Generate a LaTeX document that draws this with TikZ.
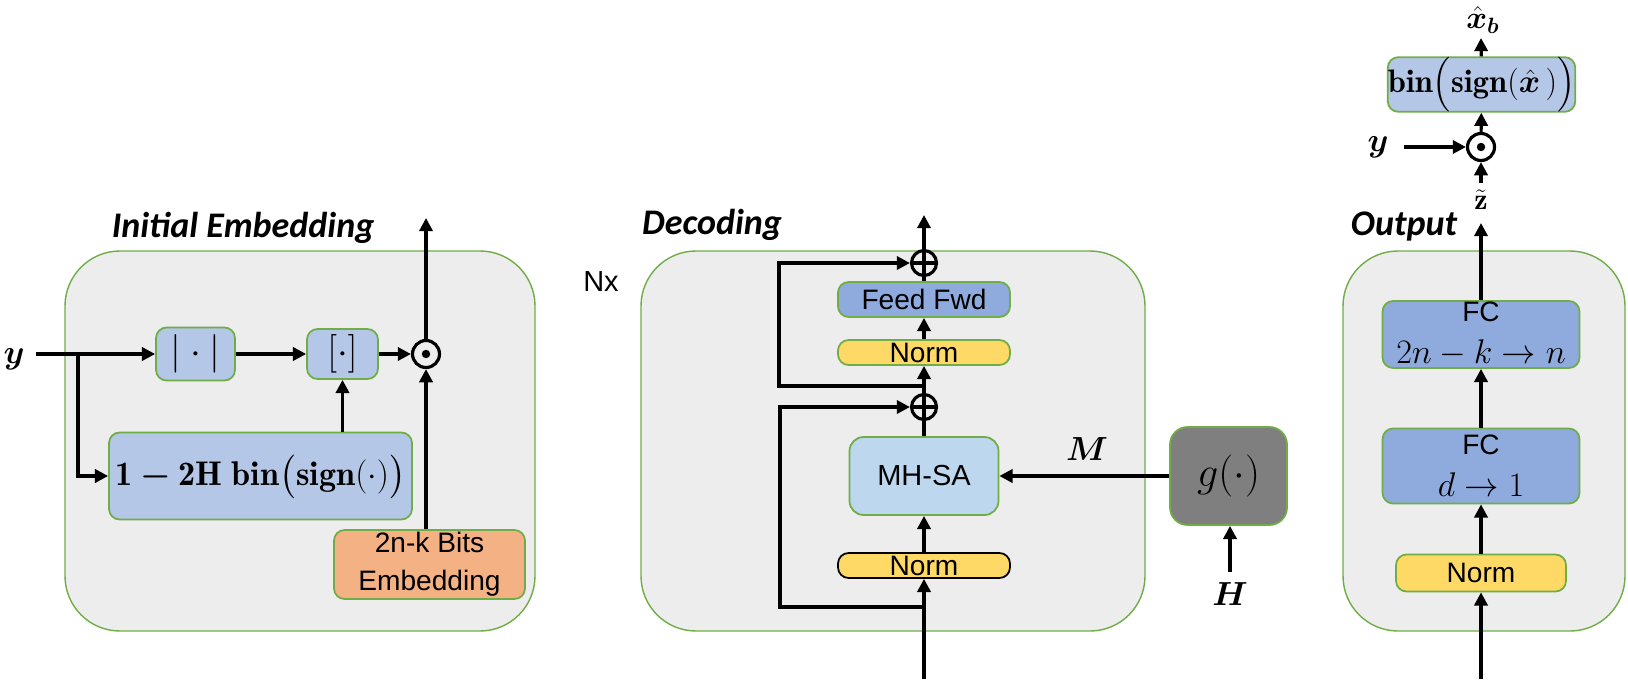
\RequirePackage{fix-cm}
\documentclass[tikz,border=0pt]{standalone}
\usepackage{amsmath, bm}
\usepackage{fontspec}
\newfontfamily\armfont{Liberation Sans}
\newfontfamily\ttlfont{Carlito}
\usetikzlibrary{arrows.meta}
\definecolor{panelgray}{RGB}{237, 237, 237}
\definecolor{panelgreen}{RGB}{112, 173, 71}
\definecolor{lightblue}{RGB}{180, 199, 231}
\definecolor{midblue}{RGB}{143, 170, 220}
\definecolor{paleblue}{RGB}{189, 215, 238}
\definecolor{normyellow}{RGB}{255, 217, 102}
\definecolor{bitsorange}{RGB}{244, 177, 131}
\definecolor{ggray}{RGB}{127, 127, 127}

\tikzset{
  panel/.style={draw=panelgreen, fill=panelgray, line width=0.8pt, rounded corners=1.1cm},
  blk/.style={draw=panelgreen, line width=1pt, rounded corners=6pt, inner sep=0pt, align=center,
    font=\armfont\fontsize{16}{24}\selectfont},
  ttl/.style={font=\ttlfont\bfseries\itshape\fontsize{20.5}{24}\selectfont},
  lbl/.style={font=\fontsize{19}{22}\selectfont, inner sep=0pt},
  flow/.style={line width=1.8pt, -{Triangle[length=7.5pt, width=7.5pt]}},
  wire/.style={line width=1.8pt},
  dotop/.style={circle, draw, line width=1.8pt, minimum size=0.54cm, inner sep=0pt,
    path picture={\fill (path picture bounding box.center) circle (2.4pt);}},
  sumop/.style={circle, draw, line width=1.8pt, minimum size=0.5cm, inner sep=0pt,
    path picture={\draw[line width=1.8pt] (path picture bounding box.north) -- (path picture bounding box.south)
      (path picture bounding box.west) -- (path picture bounding box.east);}}
}
\newcommand{\tallstrut}{\vrule height 0.95em depth 0.3em width 0pt}
\newcommand{\maptext}{$\mathbf{1}\bm{-}\mathbf{2H}\;\mathbf{bin}\!\left(\mathbf{sign}(\cdot)\tallstrut\right)$}
\newcommand{\bintext}{$\mathbf{bin}\!\left(\mathbf{sign}(\hat{\bm{x}}\,)\tallstrut\right)$}

\begin{document}
\begin{tikzpicture}[x=0.02cm, y=-0.02cm]
  \useasboundingbox (0,0) rectangle (1628,679);

  % Panels
  \draw[panel] (65,251) rectangle (535,631);
  \draw[panel] (641,251) rectangle (1145,631);
  \draw[panel] (1343,251) rectangle (1625,631);

  % Initial embedding
  \node[ttl] (t1) at (243,228) {Initial Embedding};
  \node[lbl] (y1) at (14,359) {$\bm{y}$};
  \coordinate (yin) at (36,354);
  \coordinate (ybr) at (78,354);
  \node[blk, fill=lightblue, minimum width=1.58cm, minimum height=1.06cm, font=\fontsize{22}{24}\selectfont] (abs) at (195.5,354) {$|\cdot|$};
  \node[blk, fill=lightblue, minimum width=1.42cm, minimum height=1.0cm, font=\fontsize{22}{24}\selectfont] (flr) at (342.5,354) {$[\cdot]$};
  \node[dotop] (mul1) at (426,354) {};
  \node[blk, fill=lightblue, minimum width=6.06cm, minimum height=1.74cm, font=\fontsize{19.5}{22}\selectfont] (emap) at (260.5,476) {\maptext};
  \node[blk, fill=bitsorange, minimum width=3.82cm, minimum height=1.38cm, font=\armfont\fontsize{16}{21.6}\selectfont] (bits) at (429.5,564.5) {2n-k Bits\\Embedding};
  \coordinate (emb) at (426,218);

  \draw[flow] (yin) -- (abs);
  \draw[flow] (ybr) |- (emap);
  \draw[flow] (abs) -- (flr);
  \draw[flow] (flr) -- (mul1);
  \draw[flow] (emap.north -| flr) -- (flr);
  \draw[flow] (bits.north -| mul1) -- (mul1);
  \draw[flow] (mul1) -- (emb);

  % Decoding
  \node[ttl] (t2) at (712,225) {Decoding};
  \node[font=\armfont\fontsize{16.5}{20}\selectfont] (nx) at (601,282) {Nx};
  \node[blk, fill=normyellow, draw=black, minimum width=3.44cm, minimum height=0.5cm] (n1) at (924,565.5) {Norm};
  \node[blk, fill=paleblue, minimum width=2.98cm, minimum height=1.56cm, rounded corners=8pt, font=\armfont\fontsize{16.5}{20}\selectfont] (mhsa) at (924,476) {MH-SA};
  \node[sumop] (add1) at (924,407) {};
  \node[blk, fill=normyellow, minimum width=3.44cm, minimum height=0.5cm] (n2) at (924,352.5) {Norm};
  \node[blk, fill=midblue, minimum width=3.44cm, minimum height=0.7cm] (ffn) at (924,299.5) {Feed Fwd};
  \node[sumop] (add2) at (924,263) {};
  \coordinate (din) at (924,679);
  \coordinate (dout) at (924,215);
  \coordinate (skip1) at (924,607);
  \coordinate (loop1) at (780,607);
  \coordinate (skip2) at (924,386);
  \coordinate (loop2) at (779,386);
  \node[blk, fill=ggray, minimum width=2.34cm, minimum height=1.96cm, rounded corners=10pt, font=\fontsize{24}{26}\selectfont] (gfun) at (1228.5,476) {$g(\cdot)$};
  \node[lbl] (mlab) at (1087,449) {$\bm{M}$};
  \node[lbl] (hlab) at (1230,594) {$\bm{H}$};
  \coordinate (hin) at (1230,572);

  \draw[flow] (din) -- (n1);
  \draw[flow] (n1) -- (mhsa);
  \draw[wire] (mhsa) -- (add1);
  \draw[flow] (add1) -- (n2);
  \draw[flow] (n2) -- (ffn);
  \draw[wire] (ffn) -- (add2);
  \draw[flow] (add2) -- (dout);
  \draw[flow] (skip1) -- (loop1) |- (add1);
  \draw[flow] (skip2) -- (loop2) |- (add2);
  \draw[flow] (gfun) -- (mhsa);
  \draw[flow] (hin) -- (gfun.south -| hin);

  % Output
  \node[ttl] (t3) at (1404,227) {Output};
  \node[blk, fill=normyellow, minimum width=3.4cm, minimum height=0.74cm] (n3) at (1481,573) {Norm};
  \node[blk, fill=midblue, minimum width=3.94cm, minimum height=1.5cm] (fc1) at (1481,466) {FC\\\fontsize{19.5}{24}\selectfont$d\rightarrow 1$};
  \node[blk, fill=midblue, minimum width=3.94cm, minimum height=1.34cm] (fc2) at (1481,334.5) {FC\\\fontsize{19.5}{24}\selectfont$2n-k\rightarrow n$};
  \coordinate (oin) at (1481,679);
  \coordinate (oout) at (1481,223);
  \node[lbl, font=\fontsize{17}{20}\selectfont] (zlab) at (1481,200) {$\tilde{\mathbf{z}}$};
  \coordinate (zin) at (1481,183);
  \node[dotop] (mul2) at (1481,147) {};
  \node[lbl] (y2) at (1378,147) {$\bm{y}$};
  \coordinate (yin2) at (1404,147);
  \node[blk, fill=lightblue, minimum width=3.62cm, minimum height=1.02cm, font=\fontsize{18.5}{20}\selectfont] (binb) at (1481.5,84.5) {\bintext};
  \coordinate (xout) at (1481,38);
  \node[lbl, font=\fontsize{18}{20}\selectfont] (xlab) at (1483,20) {$\hat{\bm{x}}_{\bm{b}}$};

  \draw[flow] (oin) -- (n3);
  \draw[flow] (n3) -- (fc1);
  \draw[flow] (fc1) -- (fc2);
  \draw[flow] (fc2) -- (oout);
  \draw[flow] (zin) -- (mul2);
  \draw[flow] (yin2) -- (mul2);
  \draw[flow] (mul2) -- (binb);
  \draw[flow] (binb) -- (xout);

\end{tikzpicture}
\end{document}
